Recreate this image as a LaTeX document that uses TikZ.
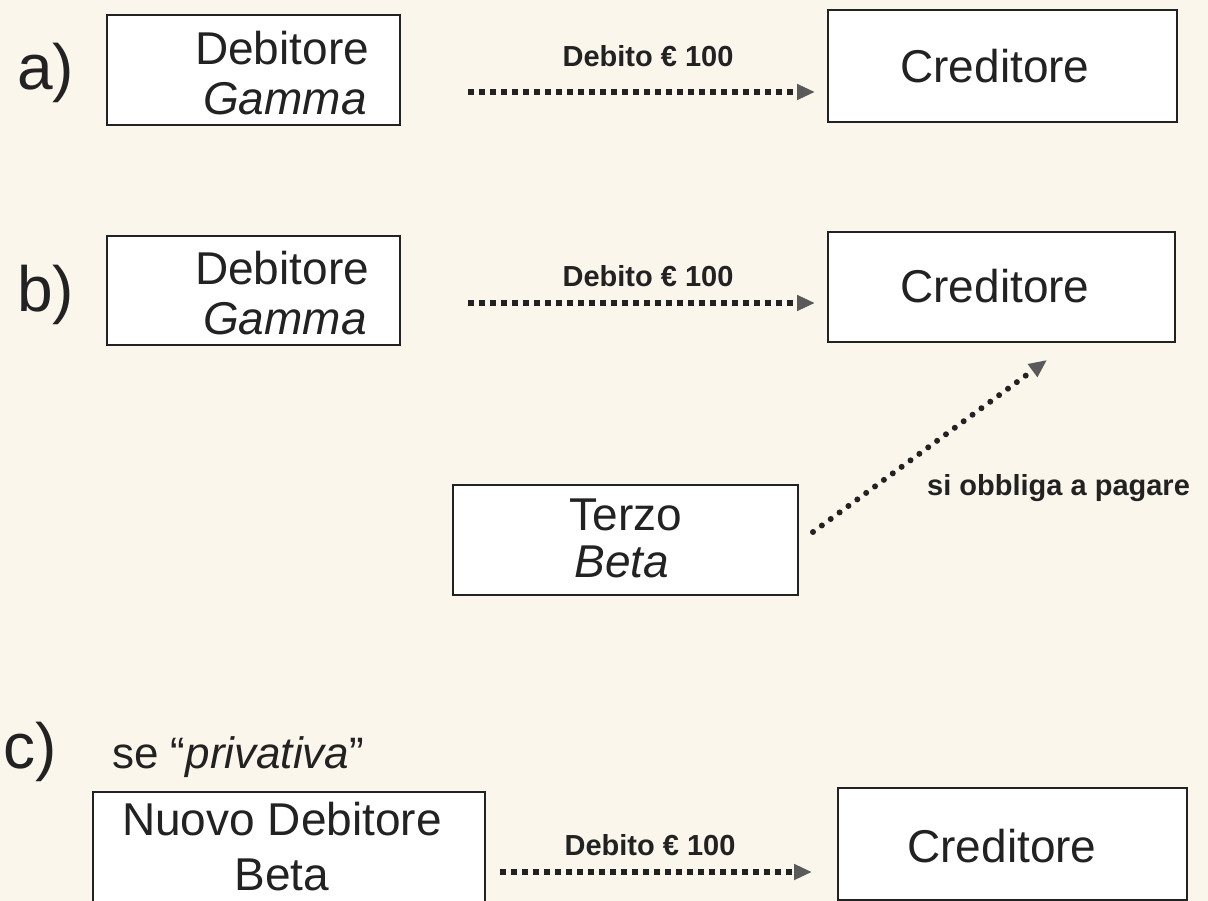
\documentclass[tikz,border=0pt]{standalone}
\usepackage{fontspec}
\setmainfont{Liberation Sans}
\usetikzlibrary{arrows.meta}
\definecolor{bg}{HTML}{FBF6EC}
\definecolor{ink}{HTML}{222222}
\definecolor{tipc}{HTML}{5A5A5A}
\begin{document}
\begin{tikzpicture}[x=1pt,y=-1pt,
  box/.style={draw=ink, line width=1.8pt, fill=white, inner sep=0pt},
  big/.style={font=\fontsize{46}{50}\selectfont, text=ink, inner sep=0pt, anchor=base},
  tag/.style={font=\fontsize{64}{70}\selectfont, text=ink, inner sep=0pt, anchor=base west},
  lbl/.style={font=\fontsize{29}{32}\selectfont\bfseries, text=ink, inner sep=0pt, anchor=base},
  sqarrow/.style={draw=ink, line width=6pt, dash pattern=on 6pt off 5pt,
    -{Triangle[length=18pt,width=15pt,color=tipc,fill=tipc]}},
  rdarrow/.style={draw=ink, line width=6pt, line cap=round, dash pattern=on 0pt off 11pt,
    -{Triangle[length=18pt,width=15pt,color=tipc,fill=tipc]}}]
\fill[bg] (0,0) rectangle (1208,901);
\useasboundingbox (0,0) rectangle (1208,901);

% a)
\node[tag] (ta) at (17,90) {a)};
\node[box, minimum width=293pt, minimum height=110pt] (a1) at (253.5,70) {};
\node[big] (a1t1) at (282,65) {Debitore};
\node[big] (a1t2) at (285,115) {\itshape Gamma};
\node[box, minimum width=349pt, minimum height=112pt] (a2) at (1002.5,66) {};
\node[big] (a2t) at (995,83) {Creditore};
\coordinate (as) at (468,92);
\coordinate (ae) at (815,92);
\draw[sqarrow] (as) -- (ae);
\node[lbl] (al) at (648,67) {Debito € 100};

% b)
\node[tag] (tb) at (17,312) {b)};
\node[box, minimum width=293pt, minimum height=109pt] (b1) at (253.5,290.5) {};
\node[big] (b1t1) at (282,285) {Debitore};
\node[big] (b1t2) at (285,335) {\itshape Gamma};
\node[box, minimum width=347pt, minimum height=110pt] (b2) at (1001.5,287) {};
\node[big] (b2t) at (995,303) {Creditore};
\coordinate (bs) at (468,303);
\coordinate (be) at (815,303);
\draw[sqarrow] (bs) -- (be);
\node[lbl] (bl) at (648,287) {Debito € 100};

\node[box, minimum width=345pt, minimum height=110pt] (t) at (625.5,540) {};
\node[big] (tt1) at (626,530) {Terzo};
\node[big] (tt2) at (622,577) {\itshape Beta};
\coordinate (ds) at (813,532);
\coordinate (de) at (1047,360);
\draw[rdarrow] (ds) -- (de);
\node[lbl, anchor=base west] (dl) at (927,495) {si obbliga a pagare};

% c)
\node[tag] (tc) at (3,768) {c)};
\node[big, anchor=base west, font=\fontsize{44}{48}\selectfont] (cs) at (112,768) {se “\textit{privativa}”};
\node[box, minimum width=392pt, minimum height=118pt] (c1) at (289,851) {};
\node[big] (c1t1) at (282,835) {Nuovo Debitore};
\node[big] (c1t2) at (282,890) {Beta};
\node[box, minimum width=349pt, minimum height=112pt] (c2) at (1012.5,844) {};
\node[big] (c2t) at (1002,862) {Creditore};
\coordinate (cst) at (500,872);
\coordinate (ce) at (812,872);
\draw[sqarrow] (cst) -- (ce);
\node[lbl] (cl) at (650,855) {Debito € 100};
\end{tikzpicture}
\end{document}
